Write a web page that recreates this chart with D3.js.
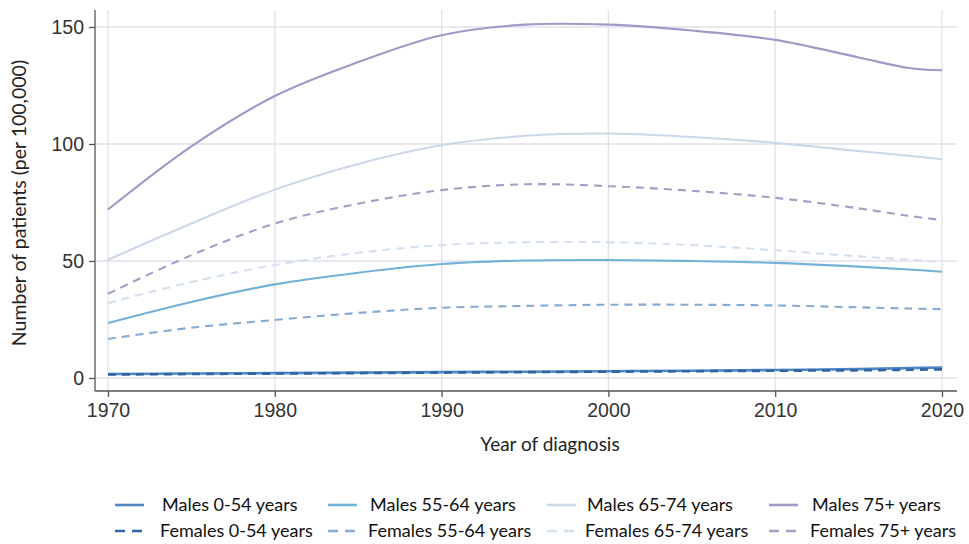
<!DOCTYPE html>
<html>
<head>
<meta charset="utf-8">
<script src="https://cdn.jsdelivr.net/npm/d3@7"></script>
<style>
  body { margin: 0; background: #fff; }
  svg { font-family: Lato, "Open Sans", sans-serif; }
  .tick text { fill: #333; font-size: 19.5px; }
  .axis path, .axis line { stroke: #555; stroke-width: 1.3; }
</style>
</head>
<body>
<div id="chart"></div>
<script>
(function() {
  var years = [1970, 1975, 1980, 1985, 1990, 1995, 2000, 2005, 2010, 2015, 2018, 2020];

  var males0_54   = [1.7, 1.9, 2.1, 2.3, 2.5, 2.7, 2.9, 3.1, 3.4, 3.8, 4.2, 4.5];
  var males55_64  = [23.5, 32.5, 40, 45, 48.7, 50.2, 50.4, 50, 49.2, 47.6, 46.4, 45.4];
  var males65_74  = [50.5, 66, 80.5, 91.5, 99.5, 103.5, 104.5, 103, 100.5, 97, 95, 93.5];
  var males75     = [72, 99, 120.5, 135, 146.5, 151, 151, 148.5, 144.5, 137, 132.5, 131.5];
  var females0_54  = [1.5, 1.7, 1.9, 2.1, 2.3, 2.5, 2.7, 2.9, 3.1, 3.3, 3.5, 3.7];
  var females55_64 = [16.7, 21.5, 24.8, 27.8, 30, 30.8, 31.3, 31.3, 31, 30.2, 29.7, 29.4];
  var females65_74 = [32, 41, 48.3, 53.5, 56.8, 58, 58, 56.8, 54.6, 52, 50.6, 49.6];
  var females75    = [36, 52.5, 66, 74.5, 80.3, 82.8, 82, 80, 77, 72.5, 69.3, 67.5];

  var xTicks = [1970, 1980, 1990, 2000, 2010, 2020];
  var yTicks = [0, 50, 100, 150];

  // legend order: columns are age groups, rows are sex
  var series = [
    { name: 'Males 0-54 years',    values: males0_54,    color: '#4f86c6', dash: null, col: 0, row: 0 },
    { name: 'Males 55-64 years',   values: males55_64,   color: '#72b2d8', dash: null, col: 1, row: 0 },
    { name: 'Males 65-74 years',   values: males65_74,   color: '#cbd8e9', dash: null, col: 2, row: 0 },
    { name: 'Males 75+ years',     values: males75,      color: '#9f99c8', dash: null, col: 3, row: 0 },
    { name: 'Females 0-54 years',  values: females0_54,  color: '#2f64a6', dash: '8,6', col: 0, row: 1 },
    { name: 'Females 55-64 years', values: females55_64, color: '#86acd2', dash: '8,6', col: 1, row: 1 },
    { name: 'Females 65-74 years', values: females65_74, color: '#d2e0ef', dash: '8,6', col: 2, row: 1 },
    { name: 'Females 75+ years',   values: females75,    color: '#a3a0c6', dash: '8,6', col: 3, row: 1 }
  ];

  const W = 969, H = 544;

  var svg = d3.select('#chart').append('svg')
    .attr('width', W)
    .attr('height', H);

  var x = d3.scaleLinear().domain([1970, 2020]).range([108, 942]);
  var y = d3.scaleLinear().domain([0, 150]).range([378, 27]);

  // grid
  var grid = svg.append('g');
  grid.selectAll('.vgrid').data(xTicks).enter().append('line')
    .attr('x1', function(d) { return x(d); })
    .attr('x2', function(d) { return x(d); })
    .attr('y1', 10)
    .attr('y2', 391)
    .attr('stroke', '#e0e0e8')
    .attr('stroke-width', 1.3);
  grid.selectAll('.hgrid').data(yTicks).enter().append('line')
    .attr('x1', 95)
    .attr('x2', 957)
    .attr('y1', function(d) { return y(d); })
    .attr('y2', function(d) { return y(d); })
    .attr('stroke', '#e0e0e8')
    .attr('stroke-width', 1.3);

  // axes
  var xAxis = svg.append('g')
    .attr('class', 'axis')
    .attr('transform', 'translate(0,391)')
    .call(d3.axisBottom(x).tickValues(xTicks).tickFormat(d3.format('d')).tickSize(6).tickSizeOuter(0));
  xAxis.select('.domain').attr('d', 'M95,0H957');
  xAxis.selectAll('.tick text').attr('y', 9).attr('dy', '0.85em');

  var yAxis = svg.append('g')
    .attr('class', 'axis')
    .attr('transform', 'translate(95,0)')
    .call(d3.axisLeft(y).tickValues(yTicks).tickSize(6).tickSizeOuter(0));
  yAxis.select('.domain').attr('d', 'M0,10V391');
  yAxis.selectAll('.tick text').attr('x', -11);

  svg.append('text')
    .attr('x', 550)
    .attr('y', 451)
    .attr('text-anchor', 'middle')
    .attr('fill', '#222')
    .style('font-size', '19px')
    .text('Year of diagnosis');

  svg.append('text')
    .attr('transform', 'translate(26,203) rotate(-90)')
    .attr('text-anchor', 'middle')
    .attr('fill', '#222')
    .style('font-size', '19.5px')
    .text('Number of patients (per 100,000)');

  // lines
  var line = d3.line()
    .x(function(d, i) { return x(years[i]); })
    .y(function(d) { return y(d); })
    .curve(d3.curveCatmullRom.alpha(0.5));

  var drawOrder = [3, 7, 2, 6, 1, 5, 0, 4];
  var lines = svg.append('g');
  drawOrder.forEach(function(i) {
    var s = series[i];
    lines.append('path')
      .attr('d', line(s.values))
      .attr('fill', 'none')
      .attr('stroke', s.color)
      .attr('stroke-width', s.col == 0 ? 2.6 : 2.1)
      .attr('stroke-dasharray', s.dash);
  });

  // legend
  var symX = [115, 328, 547, 769];
  var textX = [162, 370, 587, 812];
  var rowY = [505, 531];
  var legend = svg.append('g');
  series.forEach(function(s) {
    var lx = symX[s.col], ly = rowY[s.row];
    legend.append('line')
      .attr('x1', lx)
      .attr('x2', lx + 29)
      .attr('y1', ly)
      .attr('y2', ly)
      .attr('stroke', s.color)
      .attr('stroke-width', 2.6)
      .attr('stroke-dasharray', s.dash ? '10,7' : null);
    legend.append('text')
      .attr('x', textX[s.col] - 2 * s.row)
      .attr('y', ly + 6)
      .attr('fill', '#111')
      .style('font-size', '18px')
      .text(s.name);
  });
})();
</script>
</body>
</html>
